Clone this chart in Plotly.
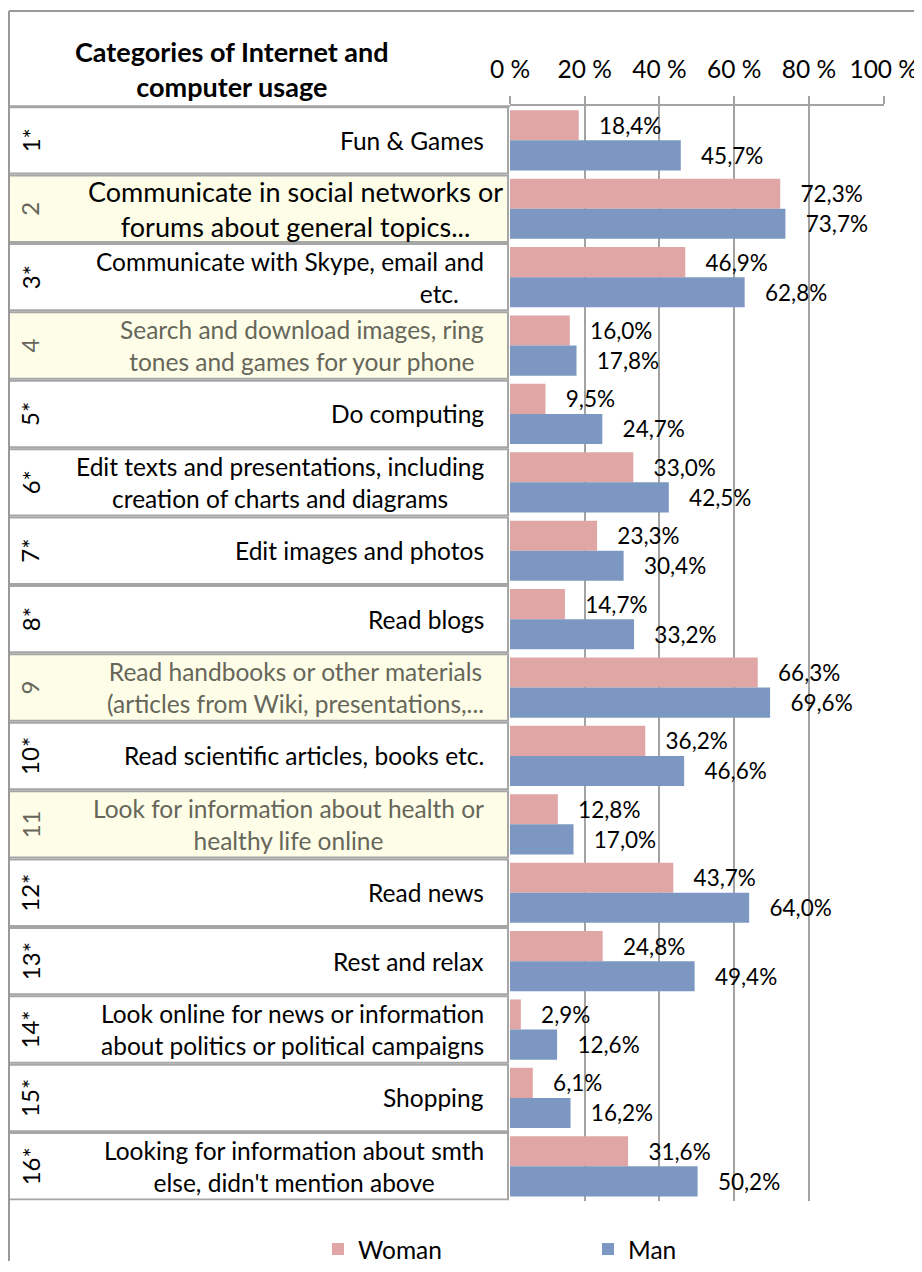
import plotly.graph_objects as go

# ---------------- data ----------------
codes = ["1*", "2", "3*", "4", "5*", "6*", "7*", "8*", "9", "10*", "11", "12*", "13*", "14*", "15*", "16*"]
categories = [
    "Fun & Games",
    "Communicate in social networks or<br>forums about general topics...",
    "Communicate with Skype, email and<br>etc.\u00a0\u00a0\u00a0\u00a0",
    "Search and download images, ring<br>tones and games for your phone",
    "Do computing",
    "Edit texts and presentations, including<br>creation of charts and diagrams",
    "Edit images and photos",
    "Read blogs",
    "Read handbooks or other materials<br>(articles from Wiki, presentations,...",
    "Read scientific articles, books etc.",
    "Look for information about health or<br>healthy life online",
    "Read news",
    "Rest and relax",
    "Look online for news or information<br>about politics or political campaigns",
    "Shopping",
    "Looking for information about smth<br>else, didn't mention above",
]
woman = [18.4, 72.3, 46.9, 16.0, 9.5, 33.0, 23.3, 14.7, 66.3, 36.2, 12.8, 43.7, 24.8, 2.9, 6.1, 31.6]
man = [45.7, 73.7, 62.8, 17.8, 24.7, 42.5, 30.4, 33.2, 69.6, 46.6, 17.0, 64.0, 49.4, 12.6, 16.2, 50.2]
highlighted = ["2", "4", "9", "11"]
x_ticks = [0, 20, 40, 60, 80, 100]
x_tick_labels = ["0 %", "20 %", "40 %", "60 %", "80 %", "100 %"]
title_text = "<b>Categories of Internet and<br>computer usage</b>"

# ---------------- style ----------------
# the page body adds an 8px margin, so the figure is shifted by OFF
OFF = 8
W, H = 922 - OFF, 1272 - OFF
FONT = "Lato"
GRID = "#a3a3a3"
WOMAN_C = "#dfa6a5"
MAN_C = "#7c98c2"
HL_FILL = "#fdfde8"
HL_TEXT = "#66665a"


def px(xp):
    return (xp - OFF) / W


def py(yp):
    return 1 - (yp - OFF) / H


LABEL_TPL = "\u00a0\u00a0\u00a0%{x:.1f}%"

fig = go.Figure()
fig.add_trace(go.Bar(
    y=codes, x=woman, orientation="h", name="Woman",
    marker=dict(color=WOMAN_C),
    texttemplate=LABEL_TPL, textposition="outside",
    textfont=dict(family=FONT, size=22.5, color="black"),
    constraintext="none", cliponaxis=False,
))
fig.add_trace(go.Bar(
    y=codes, x=man, orientation="h", name="Man",
    marker=dict(color=MAN_C),
    texttemplate=LABEL_TPL, textposition="outside",
    textfont=dict(family=FONT, size=22.5, color="black"),
    constraintext="none", cliponaxis=False,
))

shapes = []
annotations = []
n = len(codes)
inset = 1.0 / 69
for i, (code, cat) in enumerate(zip(codes, categories)):
    hl = code in highlighted
    shapes.append(dict(
        type="rect", xref="paper", yref="y",
        x0=px(9), x1=px(508), y0=i - 0.5 + inset, y1=i + 0.5 - inset,
        line=dict(color="#a6a6a6", width=2),
        fillcolor=HL_FILL if hl else "white", layer="below",
    ))
    big = code == "2"
    annotations.append(dict(
        xref="paper", yref="y", x=px(505 if big else 486), y=i,
        text=cat, showarrow=False, xanchor="right", yanchor="middle",
        align="right" if code == "3*" else "center",
        font=dict(family=FONT, size=27 if big else 24.5,
                  color=HL_TEXT if (hl and not big) else "black"),
    ))
    annotations.append(dict(
        xref="paper", yref="y", x=px(30), y=i,
        text=code, showarrow=False, textangle=-90,
        xanchor="center", yanchor="middle",
        font=dict(family=FONT, size=24, color=HL_TEXT if hl else "black"),
    ))

# header title
annotations.append(dict(
    xref="paper", yref="paper", x=px(232), y=py(70), text=title_text,
    showarrow=False, xanchor="center", yanchor="middle", align="center",
    font=dict(family=FONT, size=27, color="black"),
))

# frame lines
shapes += [
    dict(type="line", xref="paper", yref="paper", x0=px(9), x1=px(922), y0=py(11), y1=py(11),
         line=dict(color="#999999", width=2)),
    dict(type="line", xref="paper", yref="paper", x0=px(9), x1=px(9), y0=py(11), y1=py(1272),
         line=dict(color="#999999", width=2)),
    dict(type="line", xref="paper", yref="paper", x0=px(9), x1=px(510), y0=py(107), y1=py(107),
         line=dict(color=GRID, width=2)),
]

fig.update_layout(
    width=W, height=H,
    margin=dict(l=0, r=0, t=0, b=0),
    template="none",
    paper_bgcolor="white", plot_bgcolor="white",
    barmode="group", bargap=0.12, bargroupgap=0,
    separators=", ",
    font=dict(family=FONT, size=24, color="black"),
    xaxis=dict(
        domain=[px(510), px(883.7)], range=[0, 100], side="top",
        tickmode="array", tickvals=x_ticks, ticktext=x_tick_labels,
        showgrid=True, gridcolor=GRID, gridwidth=2,
        ticks="outside", ticklen=8, tickwidth=2, tickcolor=GRID,
        showline=True, linecolor=GRID, linewidth=2, zeroline=False,
        tickfont=dict(family=FONT, size=24.5, color="black"),
        ticklabelstandoff=8, automargin=False,
    ),
    yaxis=dict(
        domain=[1 - (1211 - OFF) / H, 1 - (107 - OFF) / H], range=[n - 0.5, -0.5],
        showticklabels=False, showgrid=False, zeroline=False, showline=False,
        ticks="", automargin=False,
    ),
    legend=dict(
        orientation="h", x=px(318), y=py(1260), xanchor="left", yanchor="middle",
        font=dict(family=FONT, size=24.5, color="black"),
        entrywidth=225, entrywidthmode="pixels",
        bgcolor="rgba(0,0,0,0)", itemwidth=30,
    ),
    showlegend=True,
    shapes=shapes,
    annotations=annotations,
)

fig.write_html("out.html")
